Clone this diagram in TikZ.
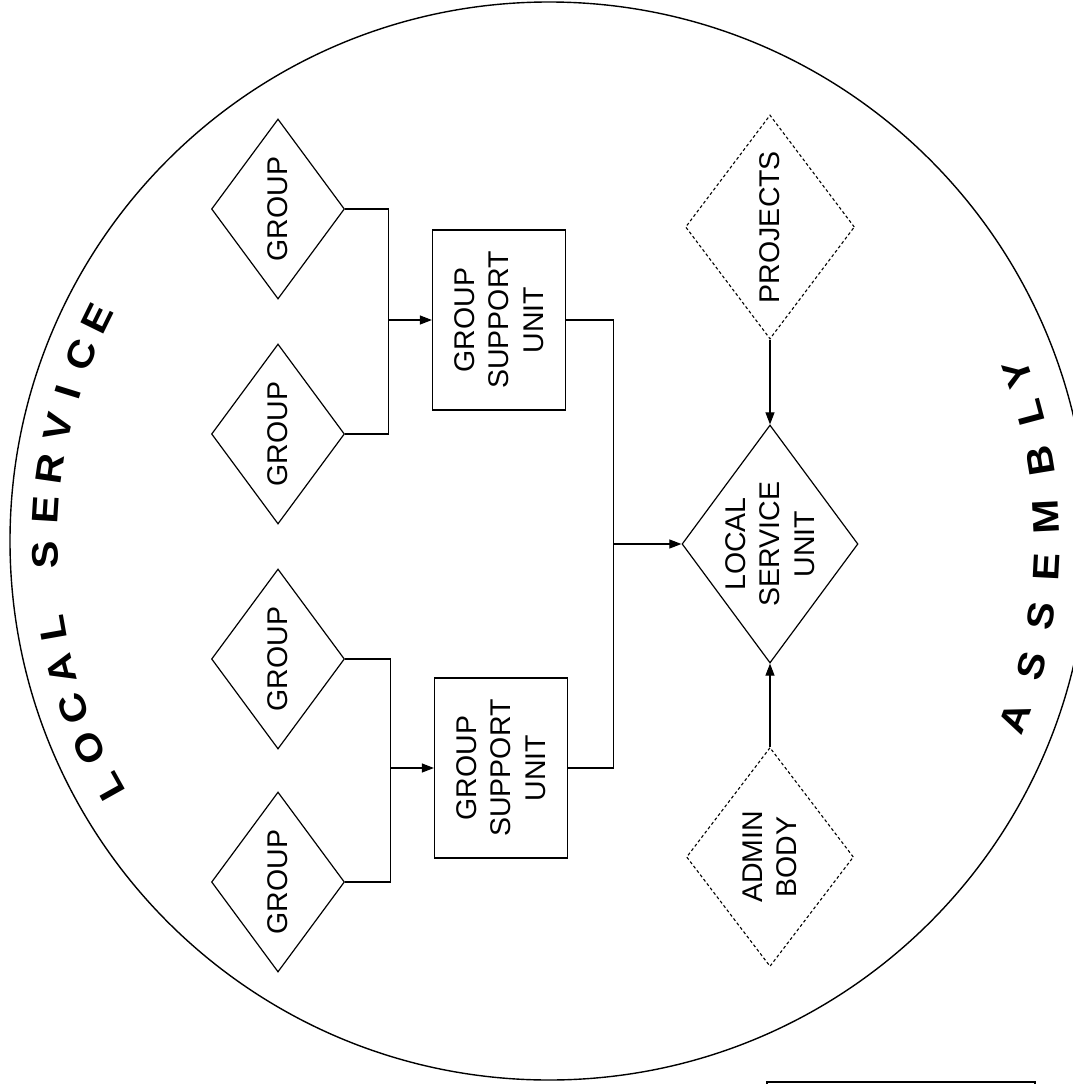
\documentclass[tikz,border=0pt]{standalone}
\usepackage{fontspec}
\setmainfont{Liberation Sans}
\usetikzlibrary{shapes.geometric,arrows.meta}
\begin{document}
\begin{tikzpicture}[x=1pt,y=-1pt,
  dia/.style={shape=diamond,draw,line width=1.2pt,inner sep=0pt,aspect=1},
  dotdia/.style={dia,line width=1.1pt,dash pattern=on 3pt off 2.5pt},
  box/.style={shape=rectangle,draw,line width=1.2pt,inner sep=0pt},
  txt/.style={rotate=90,align=center,inner sep=0pt,font=\fontsize{28.5}{34.5}\selectfont},
  conn/.style={line width=1.1pt},
  arr/.style={conn,-{Triangle[length=12pt,width=9pt]}},
  arcl/.style={inner sep=0pt,font=\fontsize{37}{42}\selectfont\bfseries}
]
\useasboundingbox (0,0) rectangle (1073,1084);
% outer circle
\draw[line width=1.4pt] (549,541) circle[radius=539pt];
% group diamonds
\node[dia,minimum width=133pt,minimum height=180pt] (g1) at (278,209) {};
\node[dia,minimum width=133pt,minimum height=180pt] (g2) at (278,434) {};
\node[dia,minimum width=133pt,minimum height=180pt] (g3) at (278,659) {};
\node[dia,minimum width=133pt,minimum height=180pt] (g4) at (278,882) {};
\node[txt] (g1t) at (g1.center) {GROUP};
\node[txt] (g2t) at (g2.center) {GROUP};
\node[txt] (g3t) at (g3.center) {GROUP};
\node[txt] (g4t) at (g4.center) {GROUP};
% group support units
\node[box,minimum width=133pt,minimum height=180pt] (gsu1) at (499,320) {};
\node[box,minimum width=133pt,minimum height=180pt] (gsu2) at (501,768) {};
\node[txt] (gsu1t) at (gsu1.center) {GROUP\\SUPPORT\\UNIT};
\node[txt] (gsu2t) at (gsu2.center) {GROUP\\SUPPORT\\UNIT};
% local service unit, projects, admin body
\node[dia,minimum width=176pt,minimum height=238pt] (lsu) at (770,544) {};
\node[txt] (lsut) at (lsu.center) {LOCAL\\SERVICE\\UNIT};
\node[dotdia,minimum width=169pt,minimum height=224pt] (proj) at (770,227) {};
\node[txt] (projt) at (proj.center) {PROJECTS};
\node[dotdia,minimum width=167pt,minimum height=219pt] (admin) at (770,857) {};
\node[txt] (admint) at (admin.center) {ADMIN\\BODY};
% connectors
\path (gsu1.west) ++(-43,0) coordinate (j1);
\path (gsu2.west) ++(-43,0) coordinate (j2);
\path (lsu.west) ++(-68,0) coordinate (j3);
\draw[conn] (g1.east) -| (j1) |- (g2.east);
\draw[arr] (j1) -- (gsu1.west);
\draw[conn] (g3.east) -| (j2) |- (g4.east);
\draw[arr] (j2) -- (gsu2.west);
\draw[conn] (gsu1.east) -| (j3) |- (gsu2.east);
\draw[arr] (j3) -- (lsu.west);
\draw[arr] (proj.south) -- (lsu.north);
\draw[arr] (admin.north) -- (lsu.south);
% curved titles
\foreach \ch/\a [count=\i] in {L/209.2,O/204.3,C/199.4,A/194.7,L/190,S/181.6,E/176.5,R/171.8,V/167,I/162.8,C/158.3,E/153.8}
  \node[arcl,rotate=\a-90] (ls\i) at ({549+504*cos(\a)},{541-504*sin(\a)}) {\scalebox{1.12}[1]{\ch}};
\foreach \ch/\a [count=\i] in {A/-20.8,S/-14.5,S/-8.7,E/-3,M/2.8,B/9.3,L/14.9,Y/19.6}
  \node[arcl,rotate=\a+90] (as\i) at ({549+498*cos(\a)},{541-498*sin(\a)}) {\scalebox{1.12}[1]{\ch}};
% bottom-right rule
\coordinate (r1) at (767,1084);
\coordinate (r2) at (767,1082);
\coordinate (r3) at (1035,1082);
\coordinate (r4) at (1035,1084);
\draw[line width=1.6pt] (r1) -- (r2) -- (r3) -- (r4);
\end{tikzpicture}
\end{document}
